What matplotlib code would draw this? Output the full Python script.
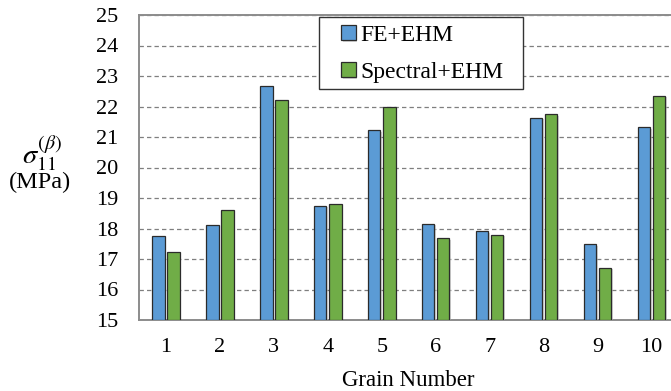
import numpy as np
import matplotlib
matplotlib.use("Agg")
import matplotlib.pyplot as plt
import matplotlib.patheffects as pe
from matplotlib.patches import Rectangle

# ── data ──────────────────────────────────────────────────────────────────────
grains = [1, 2, 3, 4, 5, 6, 7, 8, 9, 10]
fe_ehm = [17.75, 18.13, 22.68, 18.75, 21.22, 18.16, 17.92, 21.63, 17.48, 21.33]
spectral_ehm = [17.23, 18.62, 22.20, 18.81, 21.97, 17.69, 17.80, 21.74, 16.72, 22.36]
series_labels = ["FE+EHM", "Spectral+EHM"]
yticks = list(range(15, 26))

# ── style ─────────────────────────────────────────────────────────────────────
BLUE = "#5b9bd5"
GREEN = "#70ad47"
EDGE = "#2b2b2b"
SPINE = "#8c8c8c"
plt.rcParams["font.family"] = ["Liberation Serif", "DejaVu Serif"]
plt.rcParams["mathtext.fontset"] = "stix"

W, H = 671, 391
fig = plt.figure(figsize=(W / 100, H / 100), dpi=100)


def px(x, y):
    """pixel (from top-left) -> figure fraction"""
    return x / W, 1 - y / H


# axes runs a little past the right border, as in the source picture
left, right, top, bottom = 139, 678.5, 15, 320
ax = fig.add_axes([left / W, 1 - bottom / H, (right - left) / W, (bottom - top) / H])

x = np.arange(len(grains)) + 1
bw = 0.23
off = 0.14
shadow = [pe.SimplePatchShadow(offset=(1.2, -1.2), shadow_rgbFace="#bbbbbb", alpha=0.6), pe.Normal()]
b1 = ax.bar(x - off, np.array(fe_ehm) - 15, bw, bottom=15, color=BLUE,
            edgecolor=EDGE, linewidth=0.9, label=series_labels[0], zorder=3)
b2 = ax.bar(x + off, np.array(spectral_ehm) - 15, bw, bottom=15, color=GREEN,
            edgecolor=EDGE, linewidth=0.9, label=series_labels[1], zorder=3)
for r in list(b1) + list(b2):
    r.set_path_effects(shadow)

ax.set_xlim(0.5, 10.5)
ax.set_ylim(15, 25)
ax.set_yticks(yticks)
ax.set_xticks(x)
ax.set_xticklabels([str(g) for g in grains])
ax.tick_params(axis="both", length=0, labelsize=16, colors="black")
ax.tick_params(axis="y", pad=15)
ax.tick_params(axis="x", pad=13)

ax.yaxis.grid(True, linestyle=(0, (3.5, 2.5)), color="#7f7f7f", linewidth=0.9, zorder=0)
ax.set_axisbelow(True)
for s in ["left", "bottom", "top"]:
    ax.spines[s].set_color(SPINE)
    ax.spines[s].set_linewidth(1.4)
ax.spines["right"].set_visible(False)

ax.set_xlabel("Grain Number", fontsize=16.5, labelpad=9)

fig.text(*px(42, 153), r"$\sigma_{11}^{(\beta)}$", fontsize=20.5, ha="center", va="center")
fig.text(*px(40, 182), "(MPa)", fontsize=17.5, ha="center", va="center")

# legend: frame drawn by hand so its box matches the source proportions
x0, y0 = px(319, 89)
x1, y1 = px(523, 17)
ax.add_patch(Rectangle((x0, y0), x1 - x0, y1 - y0, transform=fig.transFigure,
                       facecolor="white", edgecolor="#333333", linewidth=1.0,
                       clip_on=False, zorder=4))
lx, ly = px(341, 25)
leg = fig.legend(loc="upper left", bbox_to_anchor=(lx, ly),
                 fontsize=17, frameon=False, handlelength=0.62, handleheight=0.62,
                 handletextpad=0.22, labelspacing=0.68, borderpad=0, borderaxespad=0)
leg.set_zorder(6)

fig.savefig("out.png", dpi=100)
